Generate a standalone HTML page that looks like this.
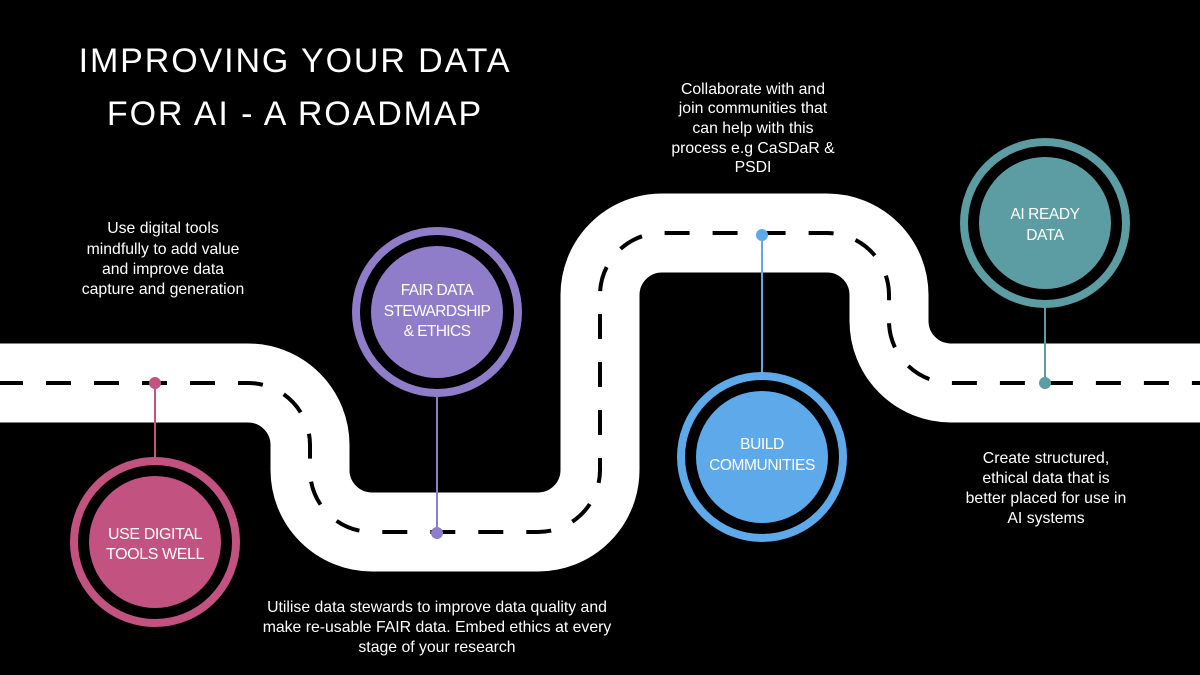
<!DOCTYPE html>
<html>
<head>
<meta charset="utf-8">
<style>
html,body{margin:0;padding:0;background:#000;}
body{width:1200px;height:675px;overflow:hidden;}
svg{display:block;}
text{font-family:"Liberation Sans", Arial, sans-serif;fill:#fff;}
</style>
</head>
<body>
<svg width="1200" height="675" viewBox="0 0 1200 675" xmlns="http://www.w3.org/2000/svg">
  <rect width="1200" height="675" fill="#000"/>

  <!-- Title -->
  <text x="295" y="72" text-anchor="middle" font-size="34" letter-spacing="1.9">IMPROVING YOUR DATA</text>
  <text x="295" y="125" text-anchor="middle" font-size="34" letter-spacing="1.9">FOR AI - A ROADMAP</text>

  <!-- Road -->
  <path d="M -10 383 H 248 A 62 62 0 0 1 310 445 V 470 A 62 62 0 0 0 372 532 H 538 A 62 62 0 0 0 600 470 V 295 A 62 62 0 0 1 662 233 H 827 A 62 62 0 0 1 889 295 V 321 A 62 62 0 0 0 951 383 H 1210"
        fill="none" stroke="#fff" stroke-width="79"/>
  <path d="M -10 383 H 248 A 62 62 0 0 1 310 445 V 470 A 62 62 0 0 0 372 532 H 538 A 62 62 0 0 0 600 470 V 295 A 62 62 0 0 1 662 233 H 827 A 62 62 0 0 1 889 295 V 321 A 62 62 0 0 0 951 383 H 1210"
        fill="none" stroke="#000" stroke-width="4" stroke-dasharray="25 23" stroke-dashoffset="-8"/>

  <!-- Pink node -->
  <line x1="155" y1="383" x2="155" y2="460" stroke="#C2527F" stroke-width="2"/>
  <circle cx="155" cy="383" r="6" fill="#C2527F"/>
  <circle cx="155" cy="542" r="81" fill="none" stroke="#C2527F" stroke-width="8"/>
  <circle cx="155" cy="542" r="66" fill="#C2527F"/>
  <text x="155" y="539" text-anchor="middle" font-size="16" letter-spacing="-0.4">USE DIGITAL</text>
  <text x="155" y="559" text-anchor="middle" font-size="16" letter-spacing="-0.4">TOOLS WELL</text>

  <!-- Purple node -->
  <line x1="437" y1="395" x2="437" y2="533" stroke="#8F7DC9" stroke-width="2"/>
  <circle cx="437" cy="533" r="6" fill="#8F7DC9"/>
  <circle cx="437" cy="312" r="81" fill="none" stroke="#8F7DC9" stroke-width="8"/>
  <circle cx="437" cy="312" r="66" fill="#8F7DC9"/>
  <text x="437" y="295" text-anchor="middle" font-size="15.5" letter-spacing="-0.6">FAIR DATA</text>
  <text x="437" y="316" text-anchor="middle" font-size="15.5" letter-spacing="-0.6">STEWARDSHIP</text>
  <text x="437" y="336" text-anchor="middle" font-size="15.5" letter-spacing="-0.6">&amp; ETHICS</text>

  <!-- Blue node -->
  <line x1="762" y1="235" x2="762" y2="375" stroke="#5DA9E9" stroke-width="2"/>
  <circle cx="762" cy="235" r="6" fill="#5DA9E9"/>
  <circle cx="762" cy="457" r="81" fill="none" stroke="#5DA9E9" stroke-width="8"/>
  <circle cx="762" cy="457" r="66" fill="#5DA9E9"/>
  <text x="762" y="449" text-anchor="middle" font-size="15.5" letter-spacing="-0.4">BUILD</text>
  <text x="762" y="470" text-anchor="middle" font-size="15.5" letter-spacing="-0.4">COMMUNITIES</text>

  <!-- Teal node -->
  <line x1="1045" y1="306" x2="1045" y2="383" stroke="#5B9DA2" stroke-width="2"/>
  <circle cx="1045" cy="383" r="6" fill="#5B9DA2"/>
  <circle cx="1045" cy="223" r="81" fill="none" stroke="#5B9DA2" stroke-width="8"/>
  <circle cx="1045" cy="223" r="66" fill="#5B9DA2"/>
  <text x="1045" y="219" text-anchor="middle" font-size="15.5" letter-spacing="-0.4">AI READY</text>
  <text x="1045" y="240" text-anchor="middle" font-size="15.5" letter-spacing="-0.4">DATA</text>

  <!-- Descriptions -->
  <g font-size="15.8" text-anchor="middle">
    <text x="163" y="233">Use digital tools</text>
    <text x="163" y="254">mindfully to add value</text>
    <text x="163" y="274">and improve data</text>
    <text x="163" y="294">capture and generation</text>

    <text x="753" y="94">Collaborate with and</text>
    <text x="753" y="113">join communities that</text>
    <text x="753" y="133">can help with this</text>
    <text x="753" y="153">process e.g CaSDaR &amp;</text>
    <text x="753" y="172">PSDI</text>

    <text x="1046" y="463">Create structured,</text>
    <text x="1046" y="483">ethical data that is</text>
    <text x="1046" y="503">better placed for use in</text>
    <text x="1046" y="523">AI systems</text>

    <text x="437" y="612">Utilise data stewards to improve data quality and</text>
    <text x="437" y="632">make re-usable FAIR data. Embed ethics at every</text>
    <text x="437" y="652">stage of your research</text>
  </g>
</svg>
</body>
</html>
